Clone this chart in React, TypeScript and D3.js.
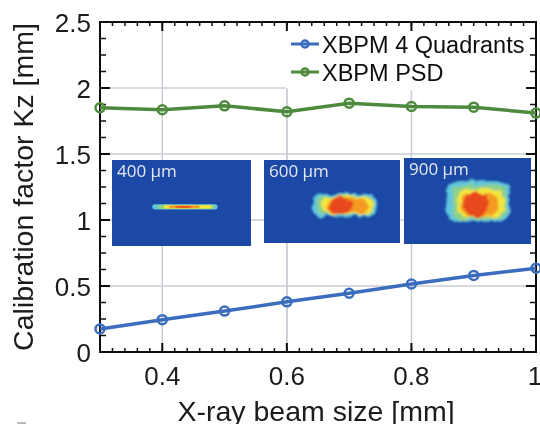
import React from "react";
import * as d3 from "d3";

const beamSize = [0.3, 0.4, 0.5, 0.6, 0.7, 0.8, 0.9, 1.0];
const quadrants = [0.175, 0.245, 0.31, 0.38, 0.445, 0.515, 0.58, 0.635];
const psd = [1.85, 1.835, 1.865, 1.82, 1.885, 1.86, 1.855, 1.81];
const xTicks = [0.4, 0.6, 0.8, 1];
const yTicks = [0, 0.5, 1, 1.5, 2, 2.5];
const xLabel = "X-ray beam size [mm]";
const yLabel = "Calibration factor Kz [mm]";
const seriesNames = ["XBPM 4 Quadrants", "XBPM PSD"];
const blue = "#3a6cbd";
const green = "#4d8a3e";
const heatColors = ["#62c6dc", "#8fd08a", "#f4e53c", "#f59a22", "#e8481f"];
const insetBlue = "#1a48a5";

// insets: pixel frame and nested levels [x0,x1,y0,y1] as fractions of the inset
const insetNames = ["400 µm", "600 µm", "900 µm"];
const insetFrames = [[112, 251, 160, 246], [264, 400, 160, 243], [404, 531, 158, 244]];
const insetBlur = ["soft0", "soft1", "soft1"];
const insetLevels = [
  [[0.29, 0.76, 0.515, 0.575], [0.33, 0.74, 0.52, 0.57], [0.37, 0.72, 0.525, 0.565], [0.41, 0.63, 0.53, 0.56], [0.45, 0.58, 0.535, 0.555]],
  [[0.35, 0.83, 0.41, 0.68], [0.39, 0.81, 0.43, 0.66], [0.42, 0.8, 0.44, 0.65], [0.46, 0.76, 0.46, 0.64], [0.48, 0.65, 0.45, 0.65]],
  [[0.34, 0.83, 0.27, 0.73], [0.38, 0.81, 0.31, 0.71], [0.42, 0.79, 0.36, 0.69], [0.45, 0.74, 0.41, 0.68], [0.47, 0.67, 0.39, 0.69]],
];

const W = 540, H = 424;
const L = 100, R = 536, T = 22, B = 352;
const x = d3.scaleLinear().domain([0.3, 1]).range([L, R]);
const y = d3.scaleLinear().domain([0, 2.5]).range([B, T]);
const minorX = d3.range(0.3, 1.0001, 0.02);
const minorY = d3.range(0, 2.5001, 0.125);
const font = "'Liberation Sans', Arial, sans-serif";
const line = d3.line<number>().x((_, i) => x(beamSize[i])).y((d) => y(d));

function Series({ values, color }: { values: number[]; color: string }) {
  return (
    <g>
      <path d={line(values) || ""} fill="none" stroke={color} strokeWidth={3.5} />
      {values.map((v, i) => (
        <circle key={i} cx={x(beamSize[i])} cy={y(v)} r={4.5} fill="none" stroke={color} strokeWidth={2.5} />
      ))}
    </g>
  );
}

function Inset({ index }: { index: number }) {
  const [x0, x1, y0, y1] = insetFrames[index];
  const fx = d3.scaleLinear().domain([0, 1]).range([x0, x1]);
  const fy = d3.scaleLinear().domain([0, 1]).range([y0, y1]);
  return (
    <g>
      <rect x={x0} y={y0} width={x1 - x0} height={y1 - y0} fill={insetBlue} />
      <g filter={`url(#${insetBlur[index]})`}>
        {insetLevels[index].map((l, i) => {
          const h = fy(l[3]) - fy(l[2]);
          const w = fx(l[1]) - fx(l[0]);
          const hot = i === 4;
          return (
            <rect key={i} x={fx(l[0])} y={fy(l[2])} width={w} height={h}
              rx={hot ? w / 2 : Math.min(h / 2, 9)} ry={hot ? h / 2 : Math.min(h / 2, 9)} fill={heatColors[i]} />
          );
        })}
      </g>
      <text x={x0 + 5} y={y0 + 17} fontFamily="'Open Sans', sans-serif" fontSize={17} fill="#e4e8f2">
        {insetNames[index]}
      </text>
    </g>
  );
}

export default function App() {
  const legendY = [44, 72];
  return (
    <svg width={W} height={H} viewBox={`0 0 ${W} ${H}`} style={{ position: "absolute", left: 0, top: 0, background: "#fff" }}>
      <defs>
        <filter id="soft0" x="-20%" y="-200%" width="140%" height="500%">
          <feGaussianBlur stdDeviation={0.5} />
        </filter>
        <filter id="soft1" x="-20%" y="-50%" width="140%" height="200%">
          <feTurbulence type="fractalNoise" baseFrequency={0.12} numOctaves={2} seed={4} result="n" />
          <feDisplacementMap in="SourceGraphic" in2="n" scale={7} xChannelSelector="R" yChannelSelector="G" />
          <feGaussianBlur stdDeviation={0.8} />
        </filter>
        <filter id="page" x="0" y="0" width={W} height={H} filterUnits="userSpaceOnUse">
          <feGaussianBlur stdDeviation={0.5} />
        </filter>
      </defs>
      <g filter="url(#page)">
        <rect x={0} y={0} width={W} height={H} fill="#fff" />
        {xTicks.slice(0, 3).map((t) => (
          <line key={t} x1={x(t)} x2={x(t)} y1={T} y2={B} stroke="#c9cdd4" strokeWidth={1.5} />
        ))}
        {yTicks.slice(1, 5).map((t) => (
          <line key={t} x1={L} x2={R} y1={y(t)} y2={y(t)} stroke="#c9cdd4" strokeWidth={1.5} />
        ))}
        <rect x={x(0.6) - 1} y={T + 2} width={R - x(0.6)} height={y(2) - T} fill="#fff" />
        <line x1={x(0.6)} x2={x(0.6)} y1={y(2)} y2={B} stroke="#c9cdd4" strokeWidth={1.5} />
        <rect x={L} y={T} width={R - L} height={B - T} fill="none" stroke="#111" strokeWidth={2} />
        {minorX.map((t, i) => (
          <g key={i} stroke="#111" strokeWidth={1.5}>
            <line x1={x(t)} x2={x(t)} y1={B} y2={B - 4} />
            <line x1={x(t)} x2={x(t)} y1={T} y2={T + 4} />
          </g>
        ))}
        {xTicks.map((t) => (
          <g key={t} stroke="#111" strokeWidth={2}>
            <line x1={x(t)} x2={x(t)} y1={B} y2={B - 9} />
            <line x1={x(t)} x2={x(t)} y1={T} y2={T + 9} />
          </g>
        ))}
        {minorY.map((t, i) => (
          <g key={i} stroke="#111" strokeWidth={1.5}>
            <line x1={L} x2={L + 6} y1={y(t)} y2={y(t)} />
            <line x1={R} x2={R - 6} y1={y(t)} y2={y(t)} />
          </g>
        ))}
        {yTicks.map((t) => (
          <g key={t} stroke="#111" strokeWidth={2}>
            <line x1={L} x2={L + 10} y1={y(t)} y2={y(t)} />
            <line x1={R} x2={R - 10} y1={y(t)} y2={y(t)} />
          </g>
        ))}
        <Series values={quadrants} color={blue} />
        <Series values={psd} color={green} />
        {insetNames.map((_, i) => (
          <Inset key={i} index={i} />
        ))}
        {seriesNames.map((name, i) => {
          const c = i === 0 ? blue : green;
          return (
            <g key={name}>
              <line x1={291} x2={319} y1={legendY[i]} y2={legendY[i]} stroke={c} strokeWidth={3} />
              <circle cx={305} cy={legendY[i]} r={3.5} fill="none" stroke={c} strokeWidth={2.5} />
              <text x={322} y={legendY[i] + 9} fontFamily={font} fontSize={23.5} fill="#111">{name}</text>
            </g>
          );
        })}
        {yTicks.map((t) => (
          <text key={t} x={91} y={y(t) + 9.5} textAnchor="end" fontFamily={font} fontSize={26} fill="#1a1a1a">{t}</text>
        ))}
        {xTicks.map((t) => (
          <text key={t} x={t === 1 ? x(t) - 1 : x(t)} y={385} textAnchor="middle" fontFamily={font} fontSize={26} fill="#1a1a1a">{t}</text>
        ))}
        <text x={316} y={421} textAnchor="middle" fontFamily={font} fontSize={28.5} fill="#1a1a1a">{xLabel}</text>
        <text transform="translate(33,187) rotate(-90)" textAnchor="middle" fontFamily={font} fontSize={28.5} fill="#1a1a1a">{yLabel}</text>
        <rect x={17} y={422} width={9} height={2} fill="#bbb" />
      </g>
    </svg>
  );
}
